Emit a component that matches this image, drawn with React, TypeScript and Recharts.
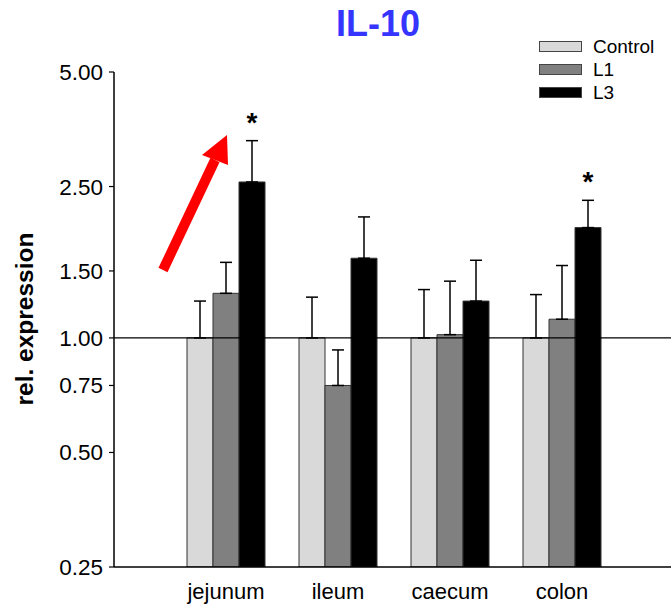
import { Bar, BarChart, ErrorBar, LabelList, ReferenceLine, XAxis, YAxis } from 'recharts'

const tissues = ['jejunum', 'ileum', 'caecum', 'colon']
const control = [1.0, 1.0, 1.0, 1.0]
const controlErr = [0.25, 0.28, 0.34, 0.3]
const l1 = [1.31, 0.75, 1.02, 1.12]
const l1Err = [0.27, 0.18, 0.39, 0.43]
const l3 = [2.57, 1.62, 1.25, 1.95]
const l3Err = [0.73, 0.46, 0.35, 0.35]
const l3Significant = [true, false, false, true]
const yTicks = [0.25, 0.5, 0.75, 1.0, 1.5, 2.5, 5.0]

const series = [
  { key: 'control', name: 'Control', color: '#d9d9d9' },
  { key: 'l1', name: 'L1', color: '#808080' },
  { key: 'l3', name: 'L3', color: '#000000' },
]

const data = tissues.map((t, i) => ({
  tissue: t,
  control: control[i],
  controlErr: [0, controlErr[i]],
  l1: l1[i],
  l1Err: [0, l1Err[i]],
  l3: l3[i],
  l3Err: [0, l3Err[i]],
}))

const W = 671
const H = 607
const TOP = 72
const X_AXIS_H = 40
const PLOT_H = H - TOP - X_AXIS_H
// pixels per doubling on the log axis, used to lift the stars above the error caps
const PX_PER_OCTAVE = PLOT_H / Math.log2(5 / 0.25)
const FONT = '"Liberation Sans", Arial, sans-serif'

function Star(props: any) {
  const { x, y, width, index } = props
  if (!l3Significant[index]) return null
  const lift = Math.log2((l3[index] + l3Err[index]) / l3[index]) * PX_PER_OCTAVE
  return (
    <text
      x={x + width / 2}
      y={y - lift - 9}
      textAnchor="middle"
      fontSize={28}
      fontWeight="bold"
      fill="#000"
    >
      *
    </text>
  )
}

export default function App() {
  return (
    <div
      style={{
        position: 'absolute',
        left: 0,
        top: 0,
        width: W,
        height: H,
        background: '#fff',
        fontFamily: FONT,
      }}
    >
      <div
        style={{
          position: 'absolute',
          left: 278,
          top: 3,
          width: 200,
          textAlign: 'center',
          fontSize: 36,
          fontWeight: 'bold',
          color: '#3535ff',
        }}
      >
        IL-10
      </div>

      <div style={{ position: 'absolute', left: 539, top: 35 }}>
        {series.map((s) => (
          <div
            key={s.key}
            style={{ display: 'flex', alignItems: 'center', height: 23 }}
          >
            <span
              style={{
                width: 41,
                height: 9,
                background: s.color,
                border: '1px solid #444',
              }}
            />
            <span style={{ marginLeft: 11, fontSize: 19, color: '#000' }}>
              {s.name}
            </span>
          </div>
        ))}
      </div>

      <div
        style={{
          position: 'absolute',
          left: 25,
          top: 319,
          transform: 'translate(-50%, -50%) rotate(-90deg)',
          fontSize: 24.5,
          fontWeight: 'bold',
          whiteSpace: 'nowrap',
        }}
      >
        rel. expression
      </div>

      <BarChart
        width={W}
        height={H}
        data={data}
        margin={{ top: TOP, right: 0, bottom: 0, left: 0 }}
        barCategoryGap={17}
        barGap={0}
        style={{ fontFamily: FONT }}
      >
        <XAxis
          dataKey="tissue"
          height={X_AXIS_H}
          padding={{ left: 56, right: 53 }}
          axisLine={{ stroke: '#000', strokeWidth: 1.5 }}
          tickLine={false}
          tickMargin={10}
          tick={{ fontSize: 22, fill: '#000' }}
        />
        <YAxis
          scale="log"
          domain={[0.25, 5]}
          ticks={yTicks}
          width={114}
          allowDataOverflow
          tickFormatter={(v: number) => v.toFixed(2)}
          axisLine={{ stroke: '#000', strokeWidth: 1.5 }}
          tickLine={{ stroke: '#000', strokeWidth: 1.2 }}
          tickSize={5}
          tickMargin={6}
          tick={{ fontSize: 22.5, fill: '#000' }}
        />
        <ReferenceLine y={1} stroke="#000" strokeWidth={1.2} />
        {series.map((s) => (
          <Bar
            key={s.key}
            dataKey={s.key}
            name={s.name}
            fill={s.color}
            stroke="#333"
            strokeWidth={1}
            isAnimationActive={false}
          >
            <ErrorBar
              dataKey={`${s.key}Err`}
              direction="y"
              width={6}
              stroke="#000"
              strokeWidth={1.5}
            />
            {s.key === 'l3' && <LabelList dataKey="l3" content={Star} />}
          </Bar>
        ))}
      </BarChart>

      <svg
        width={W}
        height={H}
        style={{ position: 'absolute', left: 0, top: 0, pointerEvents: 'none' }}
      >
        <line x1={163} y1={270} x2={215} y2={160} stroke="#ff0000" strokeWidth={10} />
        <polygon points="227,135 202,155 228,165" fill="#ff0000" />
      </svg>
    </div>
  )
}
